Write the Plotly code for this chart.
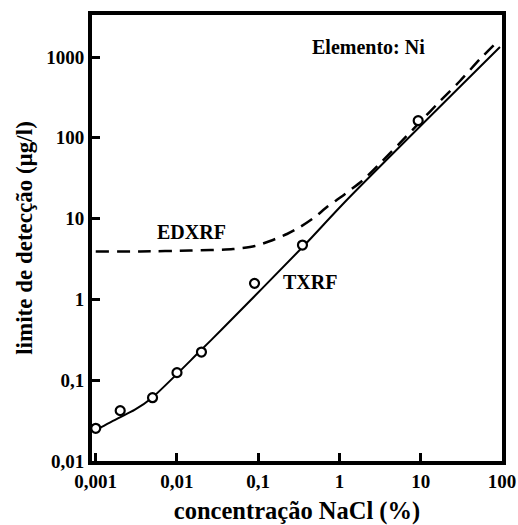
import plotly.graph_objects as go

# Measured TXRF detection limits for Ni vs NaCl concentration
txrf_conc = [0.001, 0.002, 0.005, 0.01, 0.02, 0.09, 0.35, 9.3]
txrf_lod = [0.0254, 0.042, 0.0607, 0.124, 0.223, 1.58, 4.71, 163]

# TXRF trend curve
txrf_curve_conc = [0.001, 0.0019, 0.003, 0.0049, 0.0187, 0.035, 0.352, 1.23, 94.4]
txrf_curve_lod = [0.0242, 0.034, 0.0428, 0.0603, 0.223, 0.418, 4.45, 17.0, 1330]

# EDXRF trend curve
edxrf_conc = [0.001, 0.0035, 0.0145, 0.049, 0.091, 0.14, 0.226, 0.327, 0.5, 0.70,
              1.17, 1.95, 3.33, 5.56, 9.8, 17.3, 30.4, 53.6, 86.7]
edxrf_lod = [3.92, 3.92, 4.03, 4.20, 4.58, 5.28, 6.45, 7.87, 10.5, 13.9,
             20.2, 30.0, 50.9, 86.3, 157, 285, 505, 944, 1535]

x_tickvals = [0.001, 0.01, 0.1, 1, 10, 100]
x_ticktext = ["0,001", "0,01", "0,1", "1", "10", "100"]
y_tickvals = [0.01, 0.1, 1, 10, 100, 1000]
y_ticktext = ["0,01", "0,1", "1", "10", "100", "1000"]

SERIF = "Liberation Serif"

fig = go.Figure()

fig.add_trace(go.Scatter(
    x=edxrf_conc, y=edxrf_lod, mode="lines", name="EDXRF",
    line=dict(color="black", width=2.5, dash="13px,8px", shape="spline", smoothing=0.7),
))
fig.add_trace(go.Scatter(
    x=txrf_curve_conc, y=txrf_curve_lod, mode="lines", name="TXRF",
    line=dict(color="black", width=2, shape="spline", smoothing=0.7),
))
fig.add_trace(go.Scatter(
    x=txrf_conc, y=txrf_lod, mode="markers", name="TXRF medido",
    marker=dict(symbol="circle", size=9, color="white", line=dict(color="black", width=2.2)),
    cliponaxis=False,
))

axis_common = dict(
    type="log",
    automargin=False,
    showgrid=False,
    zeroline=False,
    showline=True,
    linecolor="black",
    linewidth=4,
    mirror=True,
    ticks="inside",
    ticklen=8,
    tickwidth=3,
    tickcolor="black",
    tickfont=dict(family=SERIF, size=19, color="black", weight="bold"),
)

fig.update_xaxes(
    **axis_common,
    range=[-3.046, 2.0],
    tickvals=x_tickvals,
    ticktext=x_ticktext,
    title=dict(text="concentração NaCl (%)", standoff=20,
               font=dict(family=SERIF, size=24.5, color="black", weight="bold")),
)
fig.update_yaxes(
    **axis_common,
    range=[-2.0, 3.52],
    tickvals=y_tickvals,
    ticktext=y_ticktext,
    title=dict(text="limite de detecção (µg/l)", standoff=8,
               font=dict(family=SERIF, size=23, color="black", weight="bold")),
)

label_font = dict(family=SERIF, size=20, color="black", weight="bold")
for txt, px, py in [("Elemento: Ni", 0.675, 0.928),
                    ("EDXRF", 0.242, 0.513),
                    ("TXRF", 0.531, 0.401)]:
    fig.add_annotation(text=txt, xref="paper", yref="paper", x=px, y=py,
                       xanchor="center", yanchor="middle",
                       showarrow=False, font=label_font)

fig.update_layout(
    width=518,
    height=525,
    margin=dict(l=92, r=16, t=15, b=64),
    paper_bgcolor="white",
    plot_bgcolor="white",
    showlegend=False,
)

fig.write_html("out.html")
